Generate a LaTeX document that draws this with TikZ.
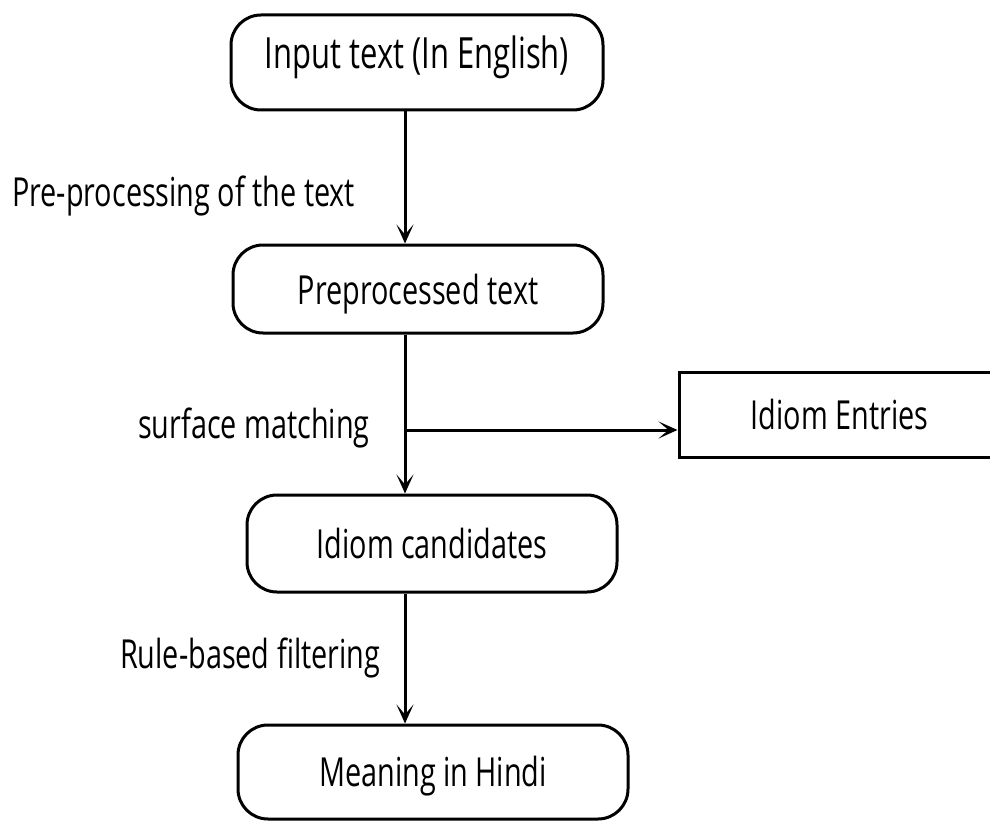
\documentclass[tikz,border=0pt]{standalone}
\usepackage{fontspec}
\setmainfont[FakeStretch=0.72]{Open Sans}
\usetikzlibrary{arrows.meta}
\begin{document}
\begin{tikzpicture}[x=1pt,y=-1pt,
  every node/.style={font=\fontsize{40}{44}\selectfont, inner sep=0pt, text height=29pt, text depth=0pt},
  flowbox/.style={draw, line width=3pt, rounded corners=30pt, align=center},
  store/.style={draw, line width=3pt},
  lbl/.style={anchor=base west},
  arr/.style={line width=3pt, -{Stealth[length=19pt,width=17pt,inset=10pt]}}]
\useasboundingbox (0,0) rectangle (990,821);
\node[flowbox, minimum width=372pt, minimum height=95pt, text depth=20pt, font=\fontsize{43}{47}\selectfont, text height=32pt] (in) at (417,62.5) {Input text (In English)};
\node[flowbox, minimum width=370pt, minimum height=88pt, text height=31pt] (pre) at (418,289) {Preprocessed text};
\node[flowbox, minimum width=370pt, minimum height=97pt] (cand) at (432,543.5) {Idiom candidates};
\node[flowbox, minimum width=390pt, minimum height=94pt] (mean) at (433,772) {Meaning in Hindi};
\node[store, minimum width=321pt, minimum height=85pt] (ent) at (839.5,414.5) {Idiom Entries};
\coordinate (spine) at (405,0);
\coordinate (br) at (405,430);
\draw[arr] (in.south -| spine) -- (pre.north -| spine);
\draw[arr] (pre.south -| spine) -- (cand.north -| spine);
\draw[arr] (br) -- (br -| ent.west);
\draw[arr] (cand.south -| spine) -- (mean.north -| spine);
\node[lbl] (l1) at (12,207) {Pre-processing of the text};
\node[lbl] (l2) at (138,438) {surface matching};
\node[lbl] (l3) at (120,668) {Rule-based filtering};
\end{tikzpicture}
\end{document}
